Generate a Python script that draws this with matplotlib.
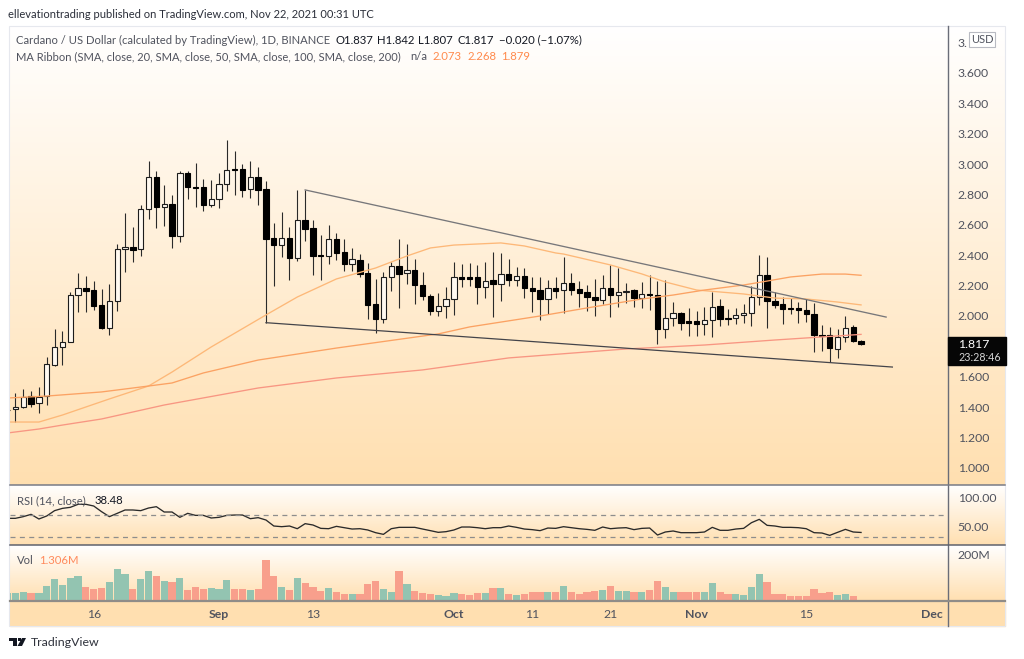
import numpy as np
import matplotlib
matplotlib.use("Agg")
import matplotlib.pyplot as plt
from matplotlib.patches import Rectangle, Polygon

plt.rcParams['font.family'] = ['Lato', 'DejaVu Sans']

## candle data, day 0 is Sep 1 2021
first_day = -27
opens = [1.378, 1.386, 1.403, 1.474, 1.425, 1.474, 1.680, 1.794, 1.831, 2.138, 2.187, 2.169, 2.070, 1.923, 2.101, 2.439, 2.457, 2.439, 2.705, 2.913, 2.716, 2.737, 2.529, 2.944, 2.852, 2.852, 2.729, 2.768, 2.871, 2.966, 2.968, 2.834, 2.913, 2.834, 2.516, 2.468, 2.516, 2.380, 2.632, 2.577, 2.400, 2.393, 2.505,
         2.419, 2.345, 2.371, 2.285, 2.077, 1.983, 2.259, 2.329, 2.281, 2.303, 2.206, 2.132, 2.033, 2.064, 2.112, 2.255, 2.255, 2.255, 2.193, 2.237, 2.211, 2.279, 2.235, 2.266, 2.187, 2.169, 2.114, 2.187, 2.169, 2.220, 2.176, 2.156, 2.125, 2.105, 2.187, 2.136, 2.156, 2.169,
         2.116, 2.145, 2.138, 1.912, 1.985, 2.018, 1.967, 1.967, 1.947, 1.972, 2.066, 1.987, 1.985, 2.004, 2.022, 2.125, 2.268, 2.099, 2.077, 2.053, 2.053, 2.042, 2.015, 1.877, 1.875, 1.783, 1.864, 1.926, 1.837]
highs = [1.390, 1.491, 1.518, 1.509, 1.531, 1.733, 1.912, 1.904, 2.156, 2.285, 2.263, 2.231, 2.176, 2.211, 2.474, 2.676, 2.584, 2.729, 3.023, 2.957, 2.860, 2.794, 2.957, 2.957, 3.005, 2.900, 2.895, 2.944, 3.159, 3.084, 3.001, 3.018, 2.983, 2.891, 2.610, 2.685, 2.588, 2.830, 2.830, 2.632, 2.536, 2.597, 2.544,
         2.505, 2.445, 2.406, 2.347, 2.241, 2.292, 2.358, 2.505, 2.474, 2.373, 2.292, 2.145, 2.149, 2.193, 2.358, 2.342, 2.351, 2.336, 2.356, 2.424, 2.413, 2.377, 2.320, 2.318, 2.255, 2.255, 2.237, 2.259, 2.391, 2.281, 2.233, 2.204, 2.241, 2.268, 2.334, 2.314, 2.215, 2.178,
         2.226, 2.270, 2.233, 2.237, 2.090, 2.029, 2.055, 2.035, 2.062, 2.156, 2.110, 2.048, 2.055, 2.077, 2.198, 2.402, 2.391, 2.160, 2.123, 2.116, 2.094, 2.110, 2.083, 1.941, 1.926, 1.915, 2.000, 1.941, 1.842]
lows = [1.360, 1.305, 1.392, 1.403, 1.364, 1.414, 1.671, 1.678, 1.829, 2.027, 2.027, 2.040, 1.915, 1.873, 2.031, 2.292, 2.353, 2.397, 2.641, 2.582, 2.593, 2.448, 2.487, 2.768, 2.716, 2.689, 2.716, 2.713, 2.825, 2.799, 2.781, 2.775, 2.733, 1.956, 2.198, 2.386, 2.239, 2.360, 2.496, 2.268, 2.239, 2.343, 2.369,
        2.298, 2.298, 2.259, 1.978, 1.890, 1.956, 2.167, 2.051, 2.211, 2.079, 2.105, 2.007, 2.000, 1.989, 2.007, 2.193, 2.198, 2.079, 2.116, 1.996, 2.099, 2.198, 2.198, 2.116, 2.026, 1.974, 2.013, 2.116, 2.022, 2.136, 2.062, 2.033, 2.000, 2.079, 1.991, 2.062, 2.088, 2.062,
        2.051, 2.040, 1.816, 1.853, 1.934, 1.908, 1.871, 1.869, 1.875, 1.864, 1.936, 1.941, 1.947, 1.956, 1.936, 2.072, 1.921, 2.055, 1.947, 2.013, 1.952, 1.963, 1.765, 1.770, 1.695, 1.726, 1.831, 1.831, 1.807]
closes = [1.381, 1.403, 1.469, 1.421, 1.469, 1.682, 1.796, 1.831, 2.138, 2.187, 2.167, 2.068, 1.923, 2.101, 2.443, 2.457, 2.437, 2.705, 2.913, 2.718, 2.735, 2.527, 2.944, 2.847, 2.843, 2.729, 2.768, 2.871, 2.961, 2.959, 2.827, 2.913, 2.832, 2.509, 2.465, 2.516, 2.380, 2.632, 2.575, 2.397, 2.393, 2.505, 2.417,
          2.342, 2.373, 2.277, 2.075, 1.983, 2.255, 2.329, 2.277, 2.303, 2.204, 2.132, 2.033, 2.064, 2.114, 2.255, 2.246, 2.246, 2.191, 2.228, 2.211, 2.279, 2.235, 2.266, 2.184, 2.167, 2.112, 2.187, 2.167, 2.220, 2.173, 2.154, 2.125, 2.105, 2.187, 2.136, 2.156, 2.167, 2.119,
          2.143, 2.138, 1.912, 1.985, 2.018, 1.954, 1.954, 1.947, 1.974, 2.057, 1.983, 1.983, 2.004, 2.022, 2.125, 2.268, 2.101, 2.075, 2.046, 2.046, 2.040, 2.015, 1.875, 1.871, 1.789, 1.864, 1.923, 1.838, 1.817]

## moving averages at a few days
ma50_days = [-27, -23, -20, -17, -14, -9, -6, -1, 6, 10, 15, 20, 24, 27, 30, 36, 39, 43, 44, 50, 54, 57, 61, 67, 71, 75, 79, 82]
ma50 = [1.302, 1.302, 1.348, 1.401, 1.454, 1.539, 1.631, 1.796, 2.007, 2.125, 2.244, 2.316, 2.395, 2.448, 2.467, 2.481, 2.461, 2.415, 2.408, 2.336, 2.277, 2.224, 2.171, 2.145, 2.118, 2.112, 2.092, 2.073]
ma100_days = [-27, -22, -15, -9, -6, -2, 5, 15, 27, 28, 32, 41, 47, 54, 58, 62, 67, 70, 73, 77, 80, 82]
ma100 = [1.460, 1.473, 1.500, 1.539, 1.559, 1.625, 1.710, 1.789, 1.875, 1.882, 1.928, 2.000, 2.053, 2.112, 2.138, 2.171, 2.204, 2.230, 2.257, 2.276, 2.276, 2.268]
ma200_days = [-27, -23, -20, -15, -7, 5, 15, 26, 37, 52, 62, 71, 82]
ma200 = [1.230, 1.256, 1.282, 1.322, 1.414, 1.526, 1.592, 1.645, 1.724, 1.783, 1.809, 1.842, 1.879]

## trend lines
upper_days = [11, 85.2]
upper_prices = [2.830, 1.993]
lower_days = [6, 86]
lower_prices = [1.956, 1.664]

rsi = [63.7, 63.7, 66.7, 70.8, 62.5, 67.9, 77.4, 81.5, 83.3, 88.7, 88.7, 85.7, 75.6, 66.7, 72.6, 78.6, 78.6, 77.4, 82.1, 84.5, 75, 75, 65.5, 72.6, 69, 69, 64.3, 65.5, 69, 69.6, 69.6, 63.1, 64.9, 60.7, 50, 48.8, 50, 45.2, 54.2, 51.8, 45.8, 45.2, 49.4, 47, 44.6, 45.2, 42.9, 38.1, 35.1, 45.2, 47.6, 47.6, 47.6, 44.6, 41.7, 38.7, 39.9, 42.9, 48.2, 48.2, 47, 45.2, 47, 47, 50,
       47.6, 44.6, 43.5, 41.7, 46.4, 45.8, 48.8, 47, 45.2, 44, 42.3, 48.2, 45.2, 46.4, 47, 43.5, 45.8, 46.4, 33.9, 39.3, 41.1, 38.1, 38.1, 38.1, 39.3, 47.6, 42.3, 42.3, 44.6, 45.8, 55.9, 61.9, 51.2, 50, 47.6, 47.6, 47, 45.2, 38.1, 37.5, 33.3, 38.7, 44, 39.3, 38.48]

volume = [34.3, 35.7, 40, 32.8, 32.8, 64.2, 92.8, 67.1, 99.9, 108.5, 60, 52.8, 55.7, 79.9, 135.6, 115.6, 52.8, 92.8, 127.1, 108.5, 84.2, 79.9, 97.1, 47.1, 61.4, 51.4, 57.1, 52.8, 88.5, 52.8, 52.8, 48.5, 52.8, 174.2, 108.5, 61.4, 47.1, 99.9, 75.7, 60, 42.8, 57.1, 37.1, 28.6, 28.6, 28.6, 71.4, 84.2, 52.8, 37.1, 127.1, 71.4, 42.8, 32.8, 28.6, 24.3, 20, 32.8, 28.6, 24.3, 32.8, 32.8, 57.1, 57.1, 28.6,
          24.3, 28.6, 37.1, 40, 40, 37.1, 64.2, 37.1, 28.6, 40, 42.8, 48.5, 64.2, 44.3, 44.3, 40, 40, 48.5, 84.2, 60, 40, 37.1, 40, 40, 40, 75.7, 37.1, 28.6, 28.6, 24.3, 60, 115.6, 79.9, 28.6, 28.6, 20, 20, 20, 52.8, 32.8, 40, 24.3, 28.6, 20, 1.306]

# 1.8 sits under the last price box and 3.8 is cut by the USD badge, as in the original
price_ticks = [1.0, 1.2, 1.4, 1.6, 2.0, 2.2, 2.4, 2.6, 2.8, 3.0, 3.2, 3.4, 3.6, 3.8]
price_labels = ['1.000', '1.200', '1.400', '1.600', '2.000', '2.200', '2.400', '2.600', '2.800', '3.000', '3.200', '3.400', '3.600', '3.']
time_ticks = [-16, 0, 12, 30, 40, 50, 61, 75, 91]
time_labels = ['16', 'Sep', '13', 'Oct', '11', '21', 'Nov', '15', 'Dec']

W, H = 1024, 659
LEFT, RIGHT, EDGE = 10, 948, 1005
TEXT = '#50535e'
UP_COL = '#93c4b1'
DOWN_COL = '#f89f8c'


def pane(y0, y1):
    # axes rectangle from pixel rows
    return fig.add_axes([LEFT / W, 1 - y1 / H, (RIGHT - LEFT) / W, (y1 - y0) / H], facecolor='none', zorder=2)


fig = plt.figure(figsize=(W / 100, H / 100), dpi=100, facecolor='white')

####################################################
##  Background gradients, one per pane
####################################################
bg = fig.add_axes([0, 0, 1, 1], zorder=0)
white = np.array([1.0, 1.0, 1.0])
peach = np.array([1.0, 0.875, 0.69])
grad = np.linspace(0, 1, 256)[:, None, None] * (peach - white) + white
for y0, y1 in [(26, 485), (485, 545), (545, 601)]:
    bg.imshow(grad, extent=[LEFT, EDGE, y1, y0], aspect='auto', zorder=1)
bg.add_patch(Rectangle((LEFT, 601), EDGE - LEFT, 25, color='#ffdfb0', zorder=1))
bg.set_xlim(0, W)
bg.set_ylim(H, 0)
bg.axis('off')

days = np.arange(first_day, first_day + len(closes))
xlim = ((LEFT - 219) / 7.83, (RIGHT - 219) / 7.83)
opens, highs, lows, closes = map(np.array, (opens, highs, lows, closes))
up = closes >= opens

####################################################
##  Main price pane
####################################################
ax = pane(26, 485)
ax.vlines(days, lows, highs, color='#2a2a2a', lw=0.8, zorder=3)
ax.bar(days[up], (closes - opens)[up], bottom=opens[up], width=0.68, facecolor='#fff9f0', edgecolor='#1c1c1c', lw=0.8, zorder=4)
ax.bar(days[~up], (closes - opens)[~up], bottom=opens[~up], width=0.68, facecolor='black', edgecolor='black', lw=0.8, zorder=4)
ax.plot(ma50_days, ma50, color='#fdb878', lw=0.95, zorder=5)
ax.plot(ma100_days, ma100, color='#fba263', lw=0.95, zorder=5)
ax.plot(ma200_days, ma200, color='#f89682', lw=0.95, zorder=5)
ax.plot(upper_days, upper_prices, color='#77777a', lw=0.95, zorder=5)
ax.plot(lower_days, lower_prices, color='#44444a', lw=0.9, zorder=5)
ax.set_ylim(2 - (485 - 316) / 151.9, 2 + (316 - 26) / 151.9)
ax.set_yticks(price_ticks)
ax.set_yticklabels(price_labels)
ax.set_xticks([])

####################################################
##  RSI pane
####################################################
ax_rsi = pane(485, 545)
ax_rsi.plot(days, rsi, color='#2a2a2a', lw=0.95)
ax_rsi.axhline(70, color='#8d8d8d', lw=0.9, dashes=(4, 3.5))
ax_rsi.axhline(30, color='#8d8d8d', lw=0.9, dashes=(4, 3.5))
ax_rsi.set_ylim(16.1, 123.2)
ax_rsi.set_yticks([50, 100])
ax_rsi.set_yticklabels(['50.00', '100.00'])
ax_rsi.set_xticks([])

####################################################
##  Volume pane
####################################################
ax_vol = pane(545, 601)
ax_vol.bar(days, volume, width=0.92, color=[UP_COL if u else DOWN_COL for u in up])
ax_vol.set_ylim(0, 239.8)
ax_vol.set_yticks([200])
ax_vol.set_yticklabels(['200M'])
ax_vol.set_xticks(time_ticks)
ax_vol.set_xticklabels(time_labels)
for tick_label in ax_vol.get_xticklabels():
    if tick_label.get_text() in ('Sep', 'Oct', 'Nov', 'Dec'):
        tick_label.set_fontweight('bold')

for a in (ax, ax_rsi, ax_vol):
    a.set_xlim(*xlim)
    a.yaxis.tick_right()
    a.tick_params(axis='y', length=0, pad=7, labelsize=8.8, labelcolor=TEXT)
    a.tick_params(axis='x', length=0, pad=6, labelsize=8.8, labelcolor=TEXT)
    for s in a.spines.values():
        s.set_visible(False)

####################################################
##  Overlay in pixel coordinates: frame, texts, badges
####################################################
over = fig.add_axes([0, 0, 1, 1], facecolor='none', zorder=5)
over.set_xlim(0, W)
over.set_ylim(H, 0)
over.axis('off')

over.add_patch(Rectangle((LEFT - 1, 26), EDGE - LEFT + 1, 600, fill=False, ec='#e6e8ee', lw=0.8))
over.plot([RIGHT, RIGHT], [26, 626], color='#6a6d78', lw=1.0)
over.plot([LEFT, EDGE], [485, 485], color='#787b86', lw=1.1)
over.plot([LEFT, EDGE], [545, 545], color='#5f626c', lw=1.1)
over.plot([LEFT, EDGE], [601, 601], color='#8f8c88', lw=1.6)


def label(x, y, s, color=TEXT, size=8.1, **kw):
    over.text(x, y, s, color=color, fontsize=size, va='center', ha='left', **kw)


label(8, 15, 'ellevationtrading published on TradingView.com, Nov 22, 2021 00:31 UTC', color='#2a2e39', size=8.05)
label(16, 40, 'Cardano / US Dollar (calculated by TradingView), 1D, BINANCE')
for x, s in [(335, 'O1.837'), (377, 'H1.842'), (418, 'L1.807'), (458, 'C1.817'), (499, '\u22120.020 (\u22121.07%)')]:
    label(x, 40, s, color='#131722', size=8.2)
label(16, 57, 'MA Ribbon (SMA, close, 20, SMA, close, 50, SMA, close, 100, SMA, close, 200)', size=8.0)
label(410, 57, 'n/a')
for x, s in [(432, '2.073'), (467, '2.268'), (501, '1.879')]:
    label(x, 57, s, color='#ff8a4c', size=8.2)
label(17, 501, 'RSI (14, close)')
label(95, 501, '38.48', color='#131722', size=8.2)
label(17, 561, 'Vol')
label(39, 561, '1.306M', color='#ff8a5c', size=8.2)

# price badges
over.add_patch(Rectangle((969, 32), 26, 15, fc='white', ec='#b8bac2', lw=0.8, zorder=6))
over.text(982, 39.5, 'USD', color=TEXT, fontsize=8.0, ha='center', va='center', zorder=7)
over.add_patch(Rectangle((948, 337), 58, 28, fc='#060606', ec='#060606', zorder=6))
over.text(958, 344, '1.817', color='white', fontsize=8.8, va='center', zorder=7)
over.text(958, 357.5, '23:28:46', color='#d6d6d6', fontsize=7.7, va='center', zorder=7)

# TradingView logo and name
over.add_patch(Polygon([(9, 638), (17, 638), (17, 646), (13, 646), (13, 641), (9, 641)], fc='#131722', lw=0))
over.add_patch(Rectangle((18, 638), 3, 3, fc='#131722', lw=0))
over.add_patch(Polygon([(22, 638), (26, 638), (22, 646), (17.5, 646)], fc='#131722', lw=0))
label(31, 643, 'TradingView', color='#2f323c', size=8.9)

fig.savefig('out.png', dpi=100)
